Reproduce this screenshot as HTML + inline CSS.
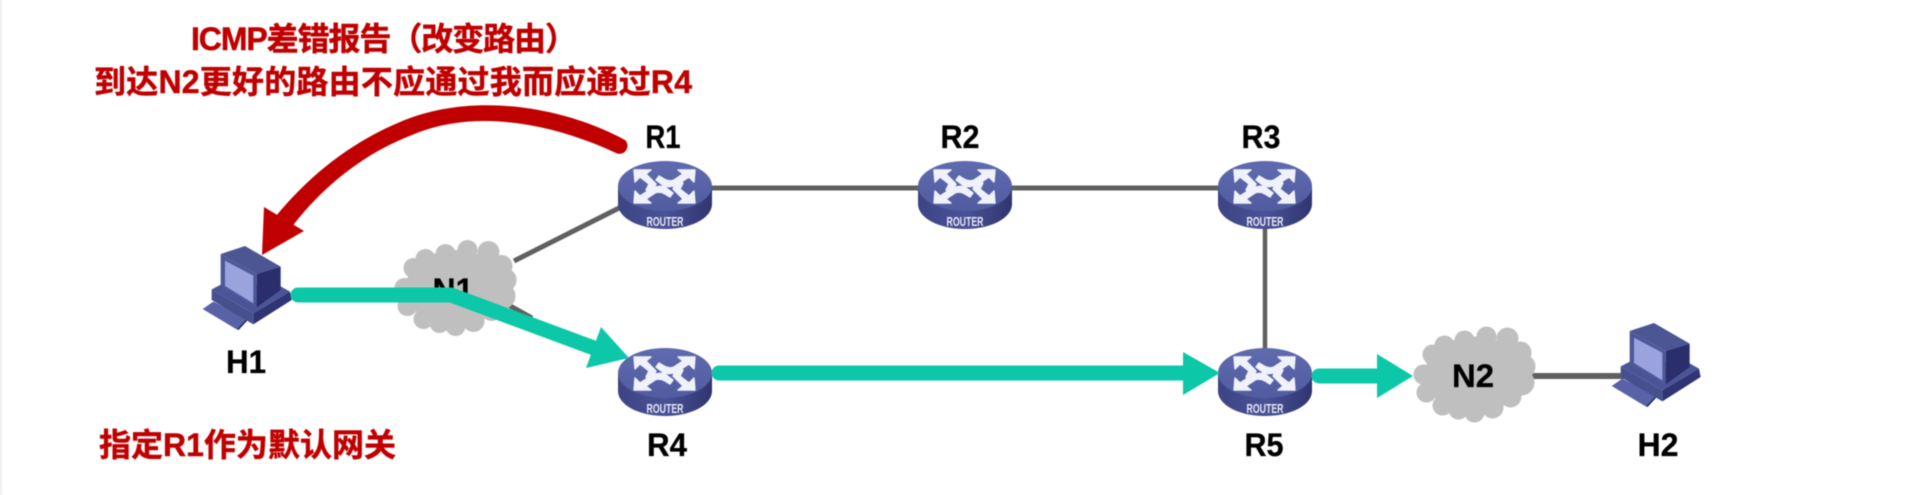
<!DOCTYPE html>
<html lang="zh">
<head>
<meta charset="utf-8">
<title>ICMP 差错报告（改变路由）</title>
<style>
html,body{margin:0;padding:0;background:#fff;width:1920px;height:495px;overflow:hidden}
svg{display:block;filter:blur(.55px)}
text{font-family:"Liberation Sans","Noto Sans CJK SC",sans-serif;font-weight:700}
.r{fill:#c00000;font-size:32px;stroke:#c00000;stroke-width:.5px}
.k{fill:#000;font-size:32px;text-anchor:middle;stroke:#000;stroke-width:.3px}
</style>
</head>
<body>
<svg xmlns="http://www.w3.org/2000/svg" width="1920" height="495" viewBox="0 0 1920 495">
<defs>
  <linearGradient id="top" x1="0" y1="0" x2="0" y2="1">
    <stop offset="0" stop-color="#5f6bae"/><stop offset="1" stop-color="#515ca0"/>
  </linearGradient>
  <linearGradient id="side" x1="0" y1="0" x2="1" y2="0">
    <stop offset="0" stop-color="#3d4484"/><stop offset=".5" stop-color="#4a5296"/><stop offset="1" stop-color="#30356f"/>
  </linearGradient>
  <g id="router">
    <path d="M0 26V44C0 58 21 69 47 69S94 58 94 44V26Z" fill="url(#side)"/>
    <ellipse cx="47" cy="26" rx="47" ry="25" fill="url(#top)"/>
    <g fill="#f0f2fb" stroke="#f0f2fb" stroke-width="1.4" stroke-linejoin="round">
      <g id="rarrows">
        <path d="M16 10H33L28 14L38 24L33 34L28 30L31 24L22 17L17 22Z"/>
        <path d="M77 10H60L65 14L56 20Q51 22 46 19L41 16L38 20L46 26Q52 28 60 24L71 17L76 22Z"/>
      </g>
      <use href="#rarrows" transform="rotate(180 46.5 26.5)"/>
    </g>
  </g>
  <g id="pc">
    <path d="M38 237L70 215L170 265L140 298Z" fill="#5862a6"/>
    <path d="M140 298L170 265L172 272L146 300Z" fill="#2b2f6e"/>
    <path d="M65 178L100 160L270 168L300 185L190 250Z" fill="#4a5497"/>
    <path d="M65 178L190 250V283L65 210Z" fill="#47508f"/>
    <path d="M190 250L300 185L305 210L190 283Z" fill="#2f3472"/>
    <path d="M92 72L165 48L272 110L200 132Z" fill="#4b5693"/>
    <path d="M200 132L272 110V180L200 232Z" fill="#2a2e6c"/>
    <path d="M92 72L200 132V232L92 175Z" fill="#4d5899"/>
    <path d="M105 92L190 137V220L105 168Z" fill="#9aa3dd"/>
  </g>
  <g id="cloud" fill="#bfbfbf">
    <ellipse cx="0" cy="0" rx="50" ry="38"/>
    <circle cx="-51" cy="0" r="10"/><circle cx="-48" cy="18" r="10"/><circle cx="-32" cy="31" r="10"/>
    <circle cx="-16" cy="35" r="10"/><circle cx="0" cy="38" r="10"/><circle cx="18" cy="33" r="11"/>
    <circle cx="36" cy="22" r="11"/><circle cx="47" cy="8" r="13"/><circle cx="49" cy="-8" r="12"/>
    <circle cx="46" cy="-22" r="11"/><circle cx="33" cy="-36" r="11"/><circle cx="12" cy="-38" r="10"/>
    <circle cx="-10" cy="-34" r="10"/><circle cx="-30" cy="-29" r="10"/><circle cx="-42" cy="-20" r="10"/>
  </g>
</defs>

<rect width="1920" height="495" fill="#fff"/>
<rect width="2" height="495" fill="#eeeeee"/>

<!-- grey links -->
<g stroke="#606060" fill="none">
  <path d="M665 188H1265" stroke-width="5"/>
  <path d="M1265 188V373" stroke-width="4.5"/>
  <path d="M514 261L625 205" stroke-width="5"/>
  <path d="M505 303L532 318" stroke-width="5"/>
  <path d="M1530 376H1625" stroke-width="6"/>
</g>

<!-- clouds -->
<use href="#cloud" transform="translate(455.5,288)"/>
<use href="#cloud" transform="translate(1474.5,374.5)"/>
<text class="k" x="453" y="301">N1</text>
<text class="k" x="1473" y="387" textLength="42" lengthAdjust="spacingAndGlyphs">N2</text>

<!-- hosts -->
<use href="#pc" transform="translate(190,230) scale(.3333)"/>
<use href="#pc" transform="translate(1599,307) scale(.3333)"/>

<!-- routers -->
<g id="routers">
  <use href="#router" x="618" y="160"/>
  <use href="#router" x="918" y="160"/>
  <use href="#router" x="1218" y="160"/>
  <use href="#router" x="618" y="347"/>
  <use href="#router" x="1218" y="347"/>
</g>
<g fill="#e6e8f5" font-size="13" text-anchor="middle">
  <text x="665" y="226" textLength="37" lengthAdjust="spacingAndGlyphs">ROUTER</text>
  <text x="965" y="226" textLength="37" lengthAdjust="spacingAndGlyphs">ROUTER</text>
  <text x="1265" y="226" textLength="37" lengthAdjust="spacingAndGlyphs">ROUTER</text>
  <text x="665" y="413" textLength="37" lengthAdjust="spacingAndGlyphs">ROUTER</text>
  <text x="1265" y="413" textLength="37" lengthAdjust="spacingAndGlyphs">ROUTER</text>
</g>

<!-- green path -->
<g fill="none" stroke="#0cc8a8" stroke-width="15" stroke-linecap="round" stroke-linejoin="round">
  <path d="M298 295H451L594 348"/>
  <path d="M719 373H1190"/>
  <path d="M1319 376H1385"/>
</g>
<g fill="#0cc8a8">
  <path d="M629 358L601 327L586 368Z"/>
  <path d="M1220 373L1183 352V395Z"/>
  <path d="M1413 376L1377 354V398Z"/>
</g>

<!-- red curved arrow -->
<path d="M625 140C560 105 470 92 400 122C350 143 310 175 276 216L291 228C320 190 360 155 412 135C470 110 545 120 616 153A8 8 0 0 0 625 140Z" fill="#c00000"/>
<path d="M262 255L264 207L304 231Z" fill="#c00000"/>

<!-- red labels -->
<text class="r" x="191" y="50" textLength="386" lengthAdjust="spacing">ICMP差错报告（改变路由）</text>
<text class="r" x="94" y="93" textLength="598" lengthAdjust="spacing">到达N2更好的路由不应通过我而应通过R4</text>
<text class="r" x="99" y="456" textLength="297" lengthAdjust="spacing">指定R1作为默认网关</text>

<!-- node labels -->
<text class="k" x="663" y="148" textLength="35" lengthAdjust="spacingAndGlyphs">R1</text>
<text class="k" x="960" y="148" textLength="39" lengthAdjust="spacingAndGlyphs">R2</text>
<text class="k" x="1261" y="148" textLength="39" lengthAdjust="spacingAndGlyphs">R3</text>
<text class="k" x="667" y="456" textLength="40" lengthAdjust="spacingAndGlyphs">R4</text>
<text class="k" x="1264" y="456" textLength="39" lengthAdjust="spacingAndGlyphs">R5</text>
<text class="k" x="246" y="373" textLength="40" lengthAdjust="spacingAndGlyphs">H1</text>
<text class="k" x="1658" y="456" textLength="41" lengthAdjust="spacingAndGlyphs">H2</text>
</svg>
</body>
</html>
